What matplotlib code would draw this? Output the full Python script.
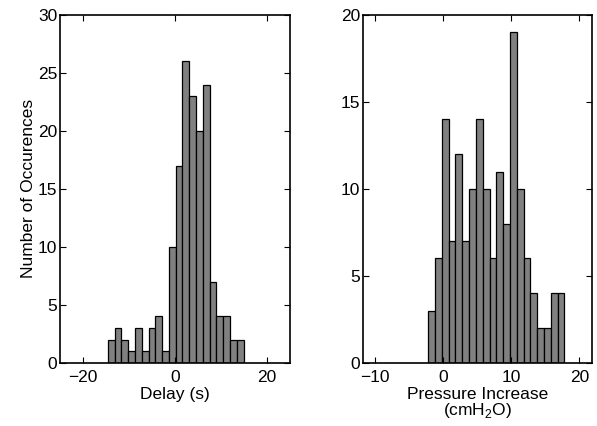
import matplotlib
matplotlib.use('Agg')
import matplotlib.pyplot as plt
import numpy as np

plt.rcParams['font.family'] = ['Liberation Sans', 'DejaVu Sans']
plt.rcParams['font.size'] = 12.5

# histogram counts (20 bins each)
delay_counts = [2, 3, 2, 1, 3, 1, 3, 4, 1, 10, 17, 26, 23, 20, 24, 7, 4, 4, 2, 2]
delay_range = (-14.6, 14.9)
pressure_counts = [3, 6, 14, 7, 12, 7, 10, 14, 10, 6, 11, 8, 19, 10, 6, 4, 2, 2, 4, 4]
pressure_range = (-2.2, 17.8)

delay_ticks = [-20, 0, 20]
delay_yticks = [0, 5, 10, 15, 20, 25, 30]
pressure_ticks = [-10, 0, 10, 20]
pressure_yticks = [0, 5, 10, 15, 20]

fig = plt.figure(figsize=(5.97, 4.26), dpi=100)
ax1 = fig.add_axes([0.1005, 0.1486, 0.3853, 0.816])
ax2 = fig.add_axes([0.6075, 0.1486, 0.3846, 0.816])


def draw_hist(ax, counts, rng):
    edges = np.linspace(rng[0], rng[1], len(counts) + 1)
    ax.bar(edges[:-1], counts, width=np.diff(edges), align='edge',
           color='#808080', edgecolor='black', linewidth=0.9)


draw_hist(ax1, delay_counts, delay_range)
ax1.set_xlim(-25, 25)
ax1.set_ylim(0, 30)
ax1.set_xticks(delay_ticks)
ax1.set_yticks(delay_yticks)
ax1.set_xlabel('Delay (s)', labelpad=2)
ax1.set_ylabel('Number of Occurences', labelpad=1.5)

draw_hist(ax2, pressure_counts, pressure_range)
ax2.set_xlim(-11.84, 21.9)
ax2.set_ylim(0, 20)
ax2.set_xticks(pressure_ticks)
ax2.set_yticks(pressure_yticks)
ax2.set_xlabel('Pressure Increase\n(cmH$_\\mathregular{2}$O)', labelpad=2, linespacing=0.9)

for ax in (ax1, ax2):
    ax.tick_params(direction='in', length=4, width=0.8, top=True, right=True)
    ax.tick_params(axis='x', pad=5)
    ax.tick_params(axis='y', pad=2)
    for s in ax.spines.values():
        s.set_linewidth(1.2)

fig.savefig('out.png', dpi=100)
